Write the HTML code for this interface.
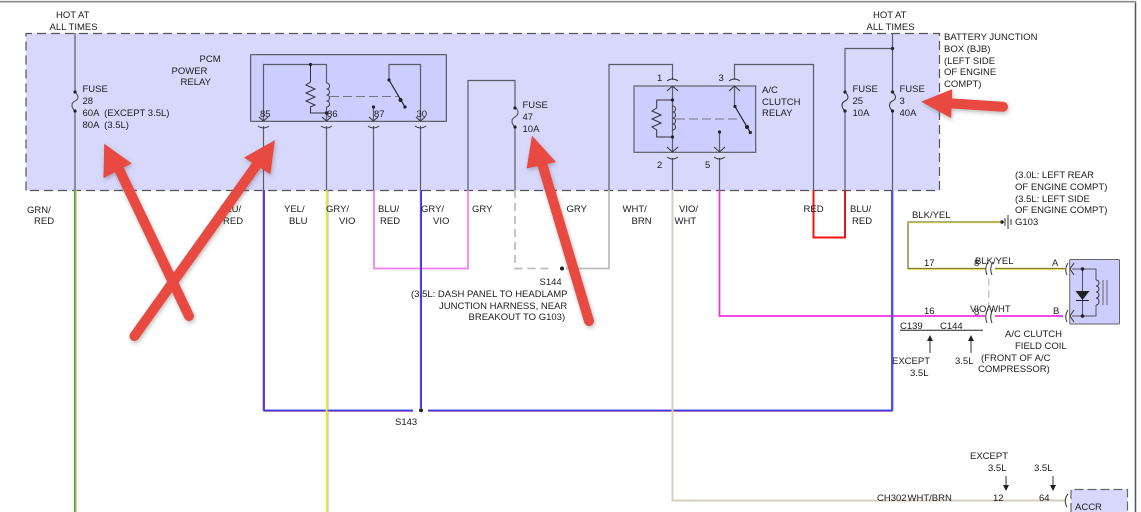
<!DOCTYPE html>
<html><head><meta charset="utf-8"><style>
html,body{margin:0;padding:0;background:#fff;width:1141px;height:512px;overflow:hidden}
svg{display:block}
text{font-family:"Liberation Sans",sans-serif;font-size:9.5px;fill:#1c1c1c;white-space:pre}
.w{fill:none;stroke:#5c5c66;stroke-width:1.2}
.k{fill:none;stroke:#333;stroke-width:1}
.d{fill:#222}
</style></head><body>
<svg width="1141" height="512" viewBox="0 0 1141 512" xmlns="http://www.w3.org/2000/svg">
<defs><filter id="s" x="-20%" y="-20%" width="140%" height="140%"><feDropShadow dx="1" dy="2" stdDeviation="2" flood-color="#555" flood-opacity=".4"/></filter></defs>
<rect width="1141" height="512" fill="#fff"/>
<path d="M0 1.7H1135.5V512" fill="none" stroke="#8a8a8a" stroke-width="1.6"/>
<path d="M1135.5 3V512" stroke="#555" stroke-width="1.2"/>
<rect x="26" y="33.5" width="913.5" height="157" fill="#d8d8fd"/>
<path d="M26 190.5V33.5H939.5V190.5H26" fill="none" stroke="#555" stroke-width="1.2" stroke-dasharray="9 5"/>

<!-- relays -->
<rect x="250.7" y="54.7" width="195.6" height="66.6" fill="#ccceff" stroke="#444" stroke-width="1"/>
<rect x="634" y="86" width="121.7" height="66.3" fill="#ccceff" stroke="#555" stroke-width="1.1"/>

<!-- lower coloured wires -->
<path d="M76.2 190V512" stroke="#f0b090" stroke-width="1"/><path d="M74.8 190V512" stroke="#44a82c" stroke-width="1.6"/>
<path d="M262.7 190V410" stroke="#ff9a9a" stroke-width="1"/><path d="M264 190V410.5H413M428 410.5H892V190" fill="none" stroke="#3232f0" stroke-width="1.8"/>
<path d="M264 411.7H413M428 411.7H892" stroke="#e88aa0" stroke-width=".7"/>
<path d="M326.5 190V512" stroke="#f0ee10" stroke-width="1.6"/><path d="M328 190V512" stroke="#a0a0d0" stroke-width=".8"/>
<path d="M374 190V268.5H468V190" fill="none" stroke="#f07cf0" stroke-width="1.7"/>
<path d="M421 190V408" stroke="#2020f0" stroke-width="1.8"/><path d="M420 190V408" stroke="#e88aa0" stroke-width=".5"/>
<path d="M515 190V268.5H552" fill="none" stroke="#bdbdbd" stroke-width="1.8" stroke-dasharray="8 5"/>
<path d="M566 268.5H609V190" fill="none" stroke="#bdbdbd" stroke-width="1.8"/>
<path d="M672.5 190V500.5H1065" fill="none" stroke="#d6d0bc" stroke-width="2"/>
<path d="M719.5 190V316H985M995 316H1063" fill="none" stroke="#f030e0" stroke-width="1.7"/>
<path d="M813.5 190V237.5H845V190" fill="none" stroke="#f01414" stroke-width="2"/>
<path d="M892.5 410V190" stroke="#5050f0" stroke-width="1.8"/>
<circle cx="421" cy="410.3" r="2" class="d"/><circle cx="562" cy="268.5" r="2" class="d"/>

<!-- upper wires -->
<path class="w" d="M75 33V92M75 111V190M75 92C79 96 79 99 75 101C71 103 71 107 75 111"/>
<circle cx="75" cy="92" r="1.6" class="d"/><circle cx="75" cy="111" r="1.6" class="d"/>
<path class="w" d="M263.5 190V126M326.5 190V126M373.5 190V126M420.5 190V126"/>
<path class="w" d="M263.5 121V64.5H326.5V83M326.5 107V121M389 80V64.5H420.5V121M373.5 107V121"/>
<path class="k" d="M310.5 64.5V82L306 85L315 89L306 93L315 97L306 101L315 105L310.5 107V113H326.5"/>
<path class="k" d="M326.5 83c4 0 4 6 0 6c4 0 4 6 0 6c4 0 4 6 0 6c4 0 4 6 0 6"/>
<path d="M330 96.5H398" stroke="#777" stroke-width=".9" stroke-dasharray="9 4" fill="none"/>
<path d="M389 80L405 107" stroke="#222" stroke-width="1.2"/>
<circle cx="310.5" cy="64.5" r="1.6" class="d"/><circle cx="326.5" cy="113" r="1.6" class="d"/><circle cx="389" cy="80" r="1.6" class="d"/><circle cx="405" cy="107" r="1.6" class="d"/><circle cx="400.5" cy="100" r="2" class="d"/><circle cx="373.5" cy="107" r="1.6" class="d"/>
<path class="k" d="M263.5 121L259 117M263.5 121L268 117M326.5 121L322 117M326.5 121L331 117M373.5 121L369 117M373.5 121L378 117M420.5 121L416 117M420.5 121L425 117"/>
<path class="k" d="M258 126Q263.5 130 269 126M321 126Q326.5 130 332 126M368 126Q373.5 130 379 126M415 126Q420.5 130 426 126"/>

<path class="w" d="M468 190V80.5H515V107M515 127V190M515 107C519 111 519 114 515 117C511 119 511 123 515 127"/>
<circle cx="515" cy="108" r="1.6" class="d"/><circle cx="515" cy="127" r="1.6" class="d"/>

<path class="w" d="M609 190V64.5H672.5V80M672.5 86V152M672.5 158V190M719.5 132V152M719.5 158V190M734.5 80V64.5H813.5V190M734.5 86V106"/>
<path class="k" d="M672.5 100H656.7V108L652 111L661 115L652 119L661 123L652 127L656.7 130V137H672.5"/>
<path class="k" d="M672.5 106c4 0 4 6 0 6c4 0 4 6 0 6c4 0 4 6 0 6c4 0 4 6 0 6"/>
<path d="M676 119H741" stroke="#777" stroke-width=".9" stroke-dasharray="9 4" fill="none"/>
<path d="M735 106.5L750.3 132.5" stroke="#222" stroke-width="1.2"/>
<circle cx="672.5" cy="100" r="1.6" class="d"/><circle cx="672.5" cy="137" r="1.6" class="d"/><circle cx="735" cy="106.5" r="1.6" class="d"/><circle cx="750.3" cy="132.5" r="1.6" class="d"/><circle cx="747" cy="127" r="2" class="d"/><circle cx="719.5" cy="132" r="1.6" class="d"/>
<path class="k" d="M667 81Q672.5 77 678 81M729 81Q734.5 77 740 81M667 91L672.5 86L678 91M729 91L734.5 86L740 91M667 147L672.5 152L678 147M714 147L719.5 152L725 147M667 157Q672.5 161 678 157M714 157Q719.5 161 725 157"/>

<path class="w" d="M892.5 33V92M892.5 111V190M845 92V48.5H892.5M845 111V190"/>
<path class="k" d="M845 92C849 96 849 99 845 101C841 103 841 107 845 111M892.5 92C896.5 96 896.5 99 892.5 101C888.5 103 888.5 107 892.5 111"/>
<circle cx="892.5" cy="48.5" r="1.6" class="d"/><circle cx="845" cy="92" r="1.6" class="d"/><circle cx="845" cy="111" r="1.6" class="d"/><circle cx="892.5" cy="92" r="1.6" class="d"/><circle cx="892.5" cy="111" r="1.6" class="d"/>

<!-- right side -->
<path d="M1000 222H908V268.5H985M995 268.5H1065" fill="none" stroke="#7a7a30" stroke-width="1.3"/>
<path d="M908 222.8H1000M908 269.5H985M995 269.5H1065" stroke="#e8e060" stroke-width=".9"/>
<circle cx="1002" cy="222" r="1.8" class="d"/>
<path d="M1005 218V226M1008 215V229M1011 219V225" stroke="#333" stroke-width="1"/>
<path d="M988.8 278V311" stroke="#c8c8c8" stroke-width="1.4" stroke-dasharray="8 4"/>
<path class="k" d="M988 262Q984 268.5 987 275M993 262Q989 268.5 992 275M988 309Q984 316 987 323M993 309Q989 316 992 323"/>
<path d="M900 330.3H983" stroke="#222" stroke-width="1"/>
<path d="M930 353V337M971 353V337M1006 476V488M1053 476V488" stroke="#333" stroke-width="1"/>
<path class="d" d="M930 335l-3 6h6zM971 335l-3 6h6zM1006 491l-3-6h6zM1053 491l-3-6h6z"/>
<rect x="1069.7" y="259.5" width="49.8" height="64.5" rx="1" fill="#ccceff" stroke="#666" stroke-width="1"/>
<path class="k" d="M1074 263L1070 269L1074 275M1074 310L1070 316L1074 322M1068 263Q1064 269 1067 275M1068 310Q1064 316 1067 322"/>
<path d="M1072 269H1096V280M1072 316H1096V305M1082.5 269V316" fill="none" stroke="#555" stroke-width="1"/>
<path class="k" d="M1096 280c4 0 4 6 0 6c4 0 4 6 0 6c4 0 4 6 0 6c4 0 4 7 0 7"/>
<path d="M1103 280V305M1107 280V305" stroke="#666" stroke-width="1"/>
<path class="d" d="M1075.5 291H1089.5L1082.5 300Z"/><path d="M1076 300.5H1089" stroke="#222"/>
<circle cx="1082.5" cy="269" r="1.8" class="d"/><circle cx="1082.5" cy="316" r="1.8" class="d"/>
<path d="M1071 512V489.5H1127.5V512" fill="#d8d8fd" stroke="#666" stroke-width="1.2" stroke-dasharray="9 4"/>
<path class="k" d="M1068 494Q1063 500 1067 507"/>

<!-- text -->
<text x="56" y="18">HOT AT</text><text x="49.5" y="30">ALL TIMES</text>
<text x="82.5" y="92">FUSE</text><text x="82.5" y="104">28</text><text x="82.5" y="116">60A  (EXCEPT 3.5L)</text><text x="82.5" y="128">80A  (3.5L)</text>
<text x="199.5" y="62">PCM</text><text x="171.5" y="74">POWER</text><text x="180.5" y="85">RELAY</text>
<text x="260" y="117">85</text><text x="327" y="117">86</text><text x="374" y="117">87</text><text x="416.5" y="117">30</text>
<text x="522.5" y="108">FUSE</text><text x="522.5" y="120">47</text><text x="522.5" y="132">10A</text>
<text x="657" y="81">1</text><text x="718.5" y="81">3</text><text x="657" y="168">2</text><text x="705" y="168">5</text>
<text x="762" y="93">A/C</text><text x="762" y="105">CLUTCH</text><text x="762" y="116">RELAY</text>
<text x="852.5" y="92">FUSE</text><text x="852.5" y="104">25</text><text x="852.5" y="116">10A</text>
<text x="899.5" y="92">FUSE</text><text x="899.5" y="104">3</text><text x="899.5" y="116">40A</text>
<text x="873" y="18">HOT AT</text><text x="866.5" y="30">ALL TIMES</text>
<text x="944" y="40">BATTERY JUNCTION</text><text x="944" y="52">BOX (BJB)</text><text x="944" y="64">(LEFT SIDE</text><text x="944" y="75">OF ENGINE</text><text x="944" y="87">COMPT)</text>
<text x="27" y="213">GRN/</text><text x="34" y="224">RED</text>
<text x="220" y="212">BLU/</text><text x="223" y="224">RED</text>
<text x="284" y="212">YEL/</text><text x="289" y="224">BLU</text>
<text x="326" y="212">GRY/</text><text x="339" y="224">VIO</text>
<text x="378" y="212">BLU/</text><text x="380" y="224">RED</text>
<text x="421" y="212">GRY/</text><text x="433" y="224">VIO</text>
<text x="472" y="212">GRY</text><text x="566.5" y="212">GRY</text>
<text x="622.5" y="212">WHT/</text><text x="631.5" y="224">BRN</text>
<text x="679" y="212">VIO/</text><text x="674.5" y="224">WHT</text>
<text x="803.5" y="212">RED</text><text x="850" y="212">BLU/</text><text x="852" y="224">RED</text>
<text x="539.5" y="285">S144</text>
<text x="411" y="297">(3.5L: DASH PANEL TO HEADLAMP</text><text x="439" y="309">JUNCTION HARNESS, NEAR</text><text x="468.5" y="320">BREAKOUT TO G103)</text>
<text x="395" y="425">S143</text>
<text x="1015" y="178">(3.0L: LEFT REAR</text><text x="1015" y="190">OF ENGINE COMPT)</text><text x="1015" y="202">(3.5L: LEFT SIDE</text><text x="1015" y="213">OF ENGINE COMPT)</text><text x="1015" y="225">G103</text>
<text x="912" y="218">BLK/YEL</text>
<text x="924" y="266">17</text><text x="974" y="266">8</text><text x="975" y="264">BLK/YEL</text><text x="1052" y="266">A</text>
<text x="924" y="314">16</text><text x="974" y="315">8</text><text x="970" y="312">VIO/WHT</text><text x="1053" y="314">B</text>
<text x="900" y="329">C139</text><text x="940" y="329">C144</text>
<text x="892" y="364">EXCEPT</text><text x="910" y="376">3.5L</text><text x="955" y="364">3.5L</text>
<text x="1005" y="337">A/C CLUTCH</text><text x="1015" y="349">FIELD COIL</text><text x="981" y="361">(FRONT OF A/C</text><text x="978" y="372">COMPRESSOR)</text>
<text x="970" y="459">EXCEPT</text><text x="988" y="471">3.5L</text><text x="1034" y="471">3.5L</text>
<text x="877" y="501">CH302</text><text x="907.5" y="501">WHT/BRN</text><text x="993" y="501">12</text><text x="1039" y="501">64</text>
<text x="1075" y="510">ACCR</text>

<!-- red arrows -->
<g filter="url(#s)" fill="#e8483f" stroke="#e8483f">
<path d="M189 316L117 165" stroke-width="10" stroke-linecap="round" fill="none"/>
<path d="M104.7 144.7L130.7 163.3L104 177.3Z" stroke-width="1"/>
<path d="M134.5 336L258 163" stroke-width="10" stroke-linecap="round" fill="none"/>
<path d="M274.3 141L245 157.7L270 173.3Z" stroke-width="1"/>
<path d="M589 321L541 160" stroke-width="10" stroke-linecap="round" fill="none"/>
<path d="M532.3 136.7L555 161.7L527.3 167.7Z" stroke-width="1"/>
<path d="M1003 106.7L945 103" stroke-width="10" stroke-linecap="round" fill="none"/>
<path d="M922.3 101.7L951.7 90L950.7 117.3Z" stroke-width="1"/>
</g>
</svg>
</body></html>
